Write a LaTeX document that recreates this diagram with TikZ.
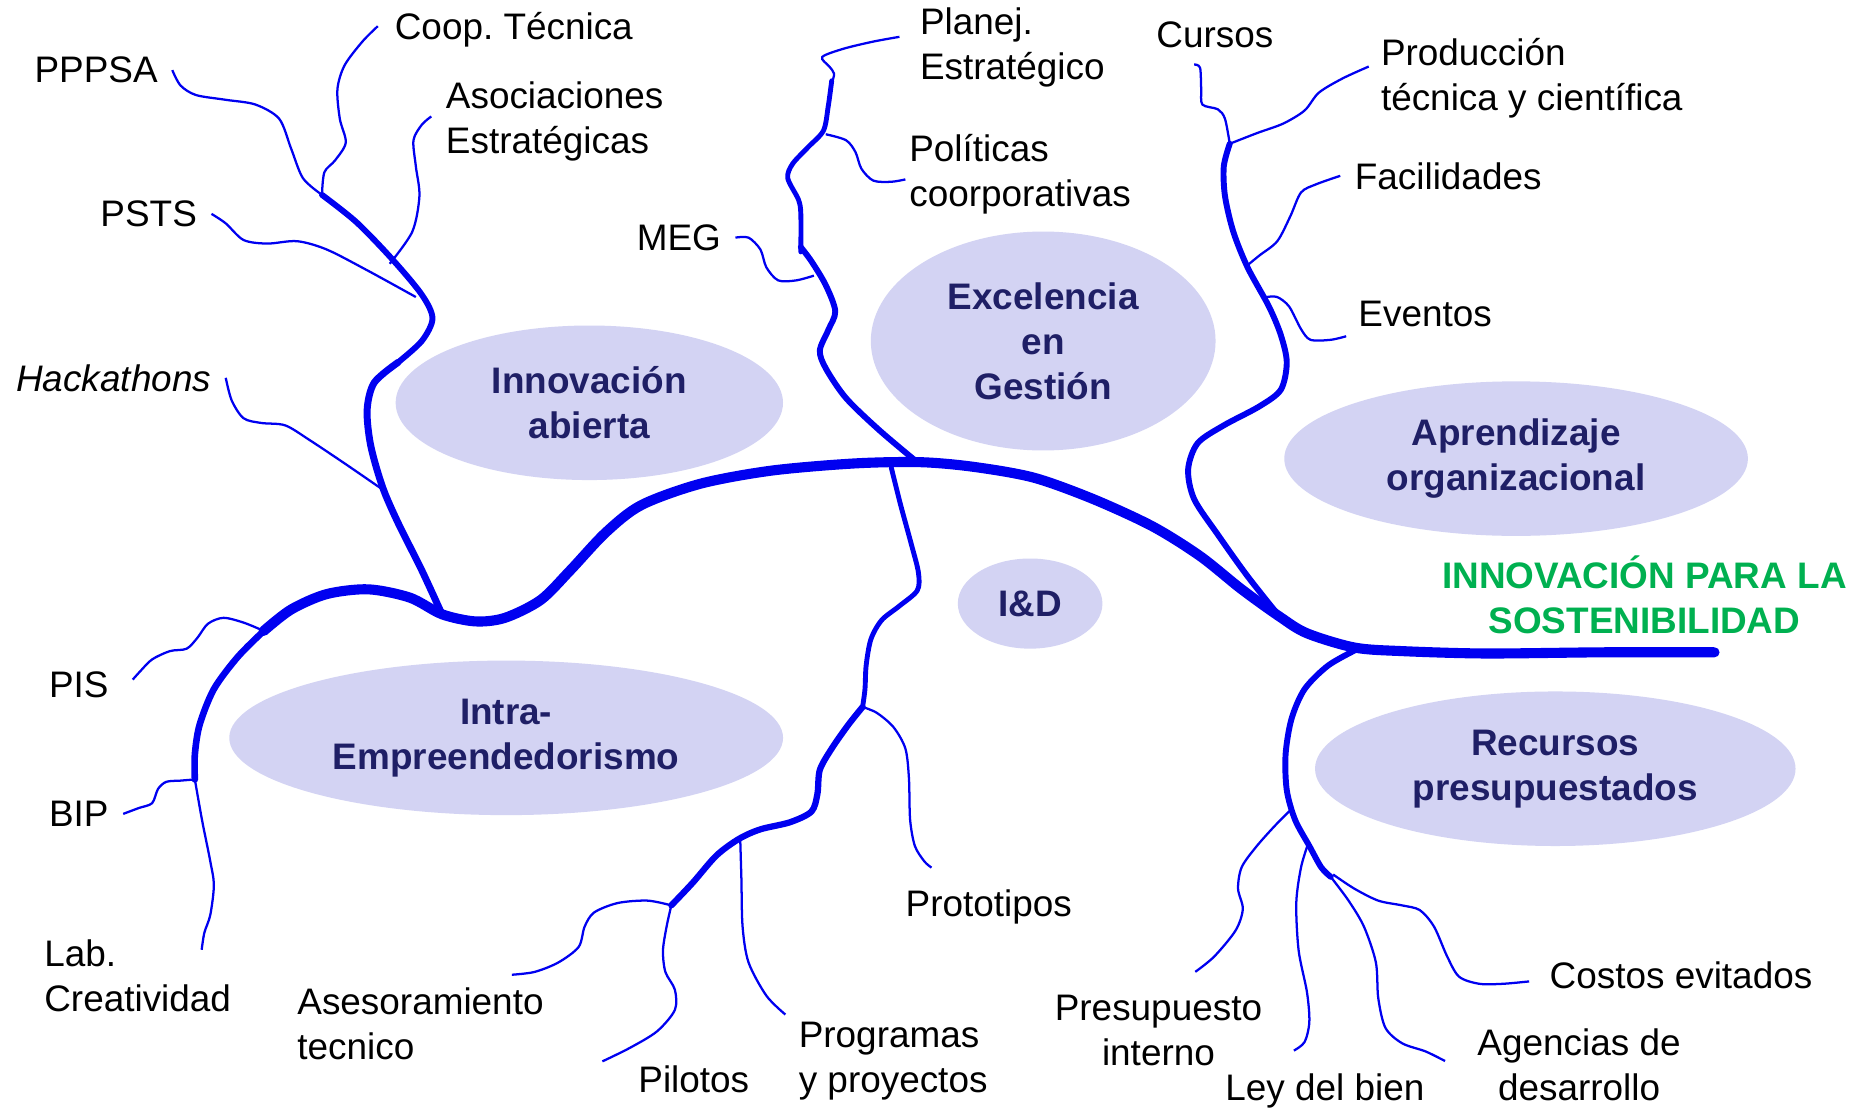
\documentclass[tikz,border=0pt]{standalone}
\usepackage{fontspec}
\setmainfont{Liberation Sans}
\usetikzlibrary{calc,positioning,shapes.geometric}
\definecolor{ramo}{RGB}{0,0,240}
\definecolor{nube}{RGB}{211,211,243}
\definecolor{tinta}{RGB}{31,31,102}
\definecolor{verde}{RGB}{0,176,80}
\frenchspacing

\begin{document}
\begin{tikzpicture}
		[x=0.012cm, y=-0.012cm,
		lbl/.style={font=\fontsize{10.6}{12.9}\selectfont, inner sep=4pt, align=left},
		area/.style={ellipse, fill=nube, inner sep=0pt, text=tinta, align=center, font=\fontsize{10.6}{12.9}\selectfont\bfseries},
		tronco/.style={draw=ramo, line width=2.9pt, line cap=round, line join=round},
		rama/.style={draw=ramo, line width=1.7pt, line cap=round, line join=round},
		hoja/.style={draw=ramo, line width=0.65pt}]
		\useasboundingbox (0,0) rectangle (1568,932);

		% areas
		\node[area, minimum width=3.91cm, minimum height=1.56cm] (innov) at (496,339) {Innovación\\abierta};
		\node[area, minimum width=3.48cm, minimum height=2.21cm] (exc) at (878,287) {Excelencia\\en\\Gestión};
		\node[area, minimum width=4.68cm, minimum height=1.56cm] (apr) at (1276,386) {Aprendizaje\\organizacional};
		\node[area, minimum width=1.46cm, minimum height=0.91cm] (id) at (867,508) {I\&D};
		\node[area, minimum width=5.59cm, minimum height=1.56cm] (intra) at (426,621) {Intra-\\Empreendedorismo};
		\node[area, minimum width=4.85cm, minimum height=1.56cm] (rec) at (1309,647) {Recursos\\presupuestados};
		\node[lbl, align=center, text=verde, font=\fontsize{10.6}{12.9}\selectfont\bfseries] (titulo) at (1384,501) {INNOVACIÓN PARA LA\\SOSTENIBILIDAD};

		% labels
		\node[lbl, anchor=east] (pppsa) at (145,59) {PPPSA};
		\node[lbl, anchor=west] (coop) at (320,25) {Coop. Técnica};
		\node[lbl, anchor=west] (asoc) at (363,102) {Asociaciones\\Estratégicas};
		\node[lbl, anchor=east] (psts) at (178,180) {PSTS};
		\node[lbl, anchor=east, font=\fontsize{10.6}{12.9}\selectfont\itshape] (hack) at (190,318) {Hackathons};
		\node[lbl, anchor=east] (meg) at (619,200) {MEG};
		\node[lbl, anchor=west] (planej) at (762,40) {Planej.\\Estratégico};
		\node[lbl, anchor=west] (polit) at (753,147) {Políticas\\coorporativas};
		\node[lbl, anchor=west] (cursos) at (961,29) {Cursos};
		\node[lbl, anchor=west] (prod) at (1150,66) {Producción\\técnica y científica};
		\node[lbl, anchor=west] (facil) at (1128,148) {Facilidades};
		\node[lbl, anchor=west] (eventos) at (1131,264) {Eventos};
		\node[lbl, anchor=west] (pis) at (29,576) {PIS};
		\node[lbl, anchor=west] (bip) at (29,685) {BIP};
		\node[lbl, anchor=west] (lab) at (25,821) {Lab.\\Creatividad};
		\node[lbl, anchor=west] (asesor) at (238,862) {Asesoramiento\\tecnico};
		\node[lbl, anchor=west] (pilotos) at (525,908) {Pilotos};
		\node[lbl, anchor=west] (prog) at (660,893) {Programas\\y proyectos};
		\node[lbl, anchor=west] (proto) at (750,763) {Prototipos};
		\node[lbl, align=center] (presup) at (975,867) {Presupuesto\\interno};
		\node[lbl, anchor=west] (ley) at (1019,918) {Ley del bien};
		\node[lbl, align=center] (agencias) at (1329,896) {Agencias de\\desarrollo};
		\node[lbl, anchor=west] (costos) at (1292,821) {Costos evitados};

		% junctions
		\coordinate (jinnov) at (372,517);
		\coordinate (jexc) at (772,389);
		\coordinate (jid) at (750,393);
		\coordinate (japr) at (1077,519);
		\coordinate (jrec) at (1143,546);
		\coordinate (jintra) at (222,531);
		\coordinate (jbip) at (164,656);
		\coordinate (jtop) at (271,164);
		\coordinate (jproto) at (726,595);
		\coordinate (jpil) at (565,762);
		\coordinate (jcur) at (1035,121);

		% trunk
		\draw[tronco] plot[smooth] coordinates {(1443,549) (1350,549) (1250,550) (1180,548) (1140,545) (1100,533) (japr) (1045,496) (1010,468) (970,443) (920,420) (870,402) (820,393) (775,389) (720,390) (650,396) (590,407) (540,425) (510,448) (480,480) (455,505) (425,520) (400,523) (jinnov) (345,503) (310,496) (275,500) (245,513) (jintra)};
		\draw[rama, line width=1.9pt] plot[smooth] coordinates {(jintra) (200,553) (180,580) (168,610) (164,635) (jbip)};

		% innovacion abierta
		\draw[rama, line width=2pt] plot[smooth] coordinates {(jinnov) (355,480) (335,440) (322,410) (312,375) (309,345) (315,322) (335,305)};
		\draw[rama] plot[smooth] coordinates {(335,305) (355,287) (364,268) (355,248) (330,218) (300,187) (jtop)};
		\draw[hoja] plot[smooth] coordinates {(pppsa.east) (152,72) (165,80) (190,84) (215,88) (235,100) (245,125) (255,150) (jtop)};
		\draw[hoja] plot[smooth] coordinates {($(coop.west)+(-2,-3)$) (305,35) (290,55) (284,75) (286,100) (291,120) (282,135) (273,145) (jtop)};
		\draw[hoja] plot[smooth] coordinates {($(asoc.west)+(0,-4)$) (355,105) (348,118) (350,140) (353,165) (347,195) (328,222)};
		\draw[hoja] plot[smooth] coordinates {(psts.east) (190,188) (205,202) (225,205) (250,203) (275,210) (310,228) (350,250)};
		\draw[hoja] plot[smooth] coordinates {(hack.east) (195,337) (205,352) (220,356) (240,358) (260,370) (290,390) (322,412)};

		% excelencia
		\draw[rama] plot[smooth] coordinates {(jexc) (740,362) (712,335) (695,310) (690,295) (697,278) (703,262) (695,240) (683,220) (674,208)};
		\draw[rama, line width=1.4pt] plot[smooth] coordinates {(674,212) (674,180) (672,168) (663,150) (667,138) (680,124) (693,110) (697,90) (700,68)};
		\draw[hoja] plot[smooth] coordinates {(meg.east) (630,200) (640,210) (645,225) (655,236) (670,236) (685,232)};
		\draw[hoja] plot[smooth] coordinates {($(polit.west)+(9,4)$) (750,153) (735,152) (725,142) (720,128) (712,118) (695,113)};
		\draw[hoja] plot[smooth] coordinates {($(planej.west)+(-5,-9)$) (735,35) (710,41) (692,48) (698,56) (702,62) (700,70)};

		% aprendizaje
		\draw[rama] plot[smooth] coordinates {(japr) (1050,485) (1025,450) (1005,420) (1000,395) (1008,373) (1030,358) (1060,342) (1078,328) (1083,305) (1078,282) (1068,258) (1050,225) (1038,195) (1031,165) (1030,140) (jcur)};
		\draw[hoja] plot[smooth] coordinates {($(cursos.south west)+(44,2)$) (1010,57) (1011,75) (1012,88) (1025,92) (1031,100) (jcur)};
		\draw[hoja] plot[smooth] coordinates {($(prod.west)+(2,-10)$) (1130,66) (1110,78) (1098,93) (1080,104) (1058,112) (jcur)};
		\draw[hoja] plot[smooth] coordinates {(facil.west) (1108,155) (1095,162) (1086,182) (1075,203) (1060,215) (1049,224)};
		\draw[hoja] plot[smooth] coordinates {($(eventos.west)+(2,19)$) (1120,286) (1103,286) (1095,277) (1085,258) (1075,250) (1066,250)};

		% intra
		\draw[hoja] plot[smooth] coordinates {(jbip) (170,690) (177,725) (180,745) (177,770) (172,785) ($(lab.north east)+(-37,21)$)};
		\draw[hoja] plot[smooth] coordinates {($(pis.east)+(8,-4)$) (118,565) (128,555) (143,548) (157,546) (166,537) (175,525) (188,520) (205,524) (jintra)};
		\draw[hoja] plot[smooth] coordinates {(bip.east) (117,680) (128,676) (133,664) (140,658) (152,657) (jbip)};

		% I&D
		\draw[rama, line width=1.4pt] plot[smooth] coordinates {(jid) (758,425) (767,458) (773,482) (772,497) (757,510) (742,522) (733,538) (729,560) (728,580) (jproto)};
		\draw[rama, line width=1.8pt] plot[smooth] coordinates {(jproto) (714,610) (700,630) (690,648) (688,668) (683,683) (665,692) (640,698) (622,706) (603,720) (583,743) (jpil)};
		\draw[hoja] plot[smooth] coordinates {(jproto) (738,600) (752,612) (762,630) (765,655) (766,690) (770,712) (778,725) ($(proto.north west)+(34,-6)$)};
		\draw[hoja] plot[smooth] coordinates {(623,706) (624,740) (625,780) (630,810) (645,838) ($(prog.north west)+(1,6)$)};
		\draw[hoja] plot[smooth] coordinates {(jpil) (561,780) (558,800) (560,818) (568,833) (568,850) (553,868) (530,882) ($(pilotos.north west)+(-18,9)$)};
		\draw[hoja] plot[smooth] coordinates {(jpil) (545,758) (520,760) (500,768) (492,780) (487,797) (470,810) (450,818) ($(asesor.north east)+(-39,1)$)};

		% recursos
		\draw[rama] plot[smooth] coordinates {(jrec) (1118,560) (1098,580) (1087,605) (1082,635) (1083,665) (1090,690) (1102,712) (1112,730) (1120,738)};
		\draw[hoja] plot[smooth] coordinates {(1088,680) (1073,695) (1057,713) (1045,730) (1042,748) (1046,765) (1040,783) (1022,805) ($(presup.north)+(31,-7)$)};
		\draw[hoja] plot[smooth] coordinates {(1101,710) (1095,730) (1091,760) (1093,800) (1100,835) (1102,860) (1098,877) ($(ley.north west)+(70,-7)$)};
		\draw[hoja] plot[smooth] coordinates {(1120,738) (1135,758) (1148,780) (1158,810) (1160,840) (1166,865) (1180,878) (1200,885) ($(agencias.west)+(-15,-3)$)};
		\draw[hoja] plot[smooth] coordinates {(1122,736) (1140,748) (1160,758) (1180,762) (1195,766) (1207,780) (1218,805) (1228,822) (1245,828) (1265,828) ($(costos.west)+(-5,5)$)};
\end{tikzpicture}
\end{document}
